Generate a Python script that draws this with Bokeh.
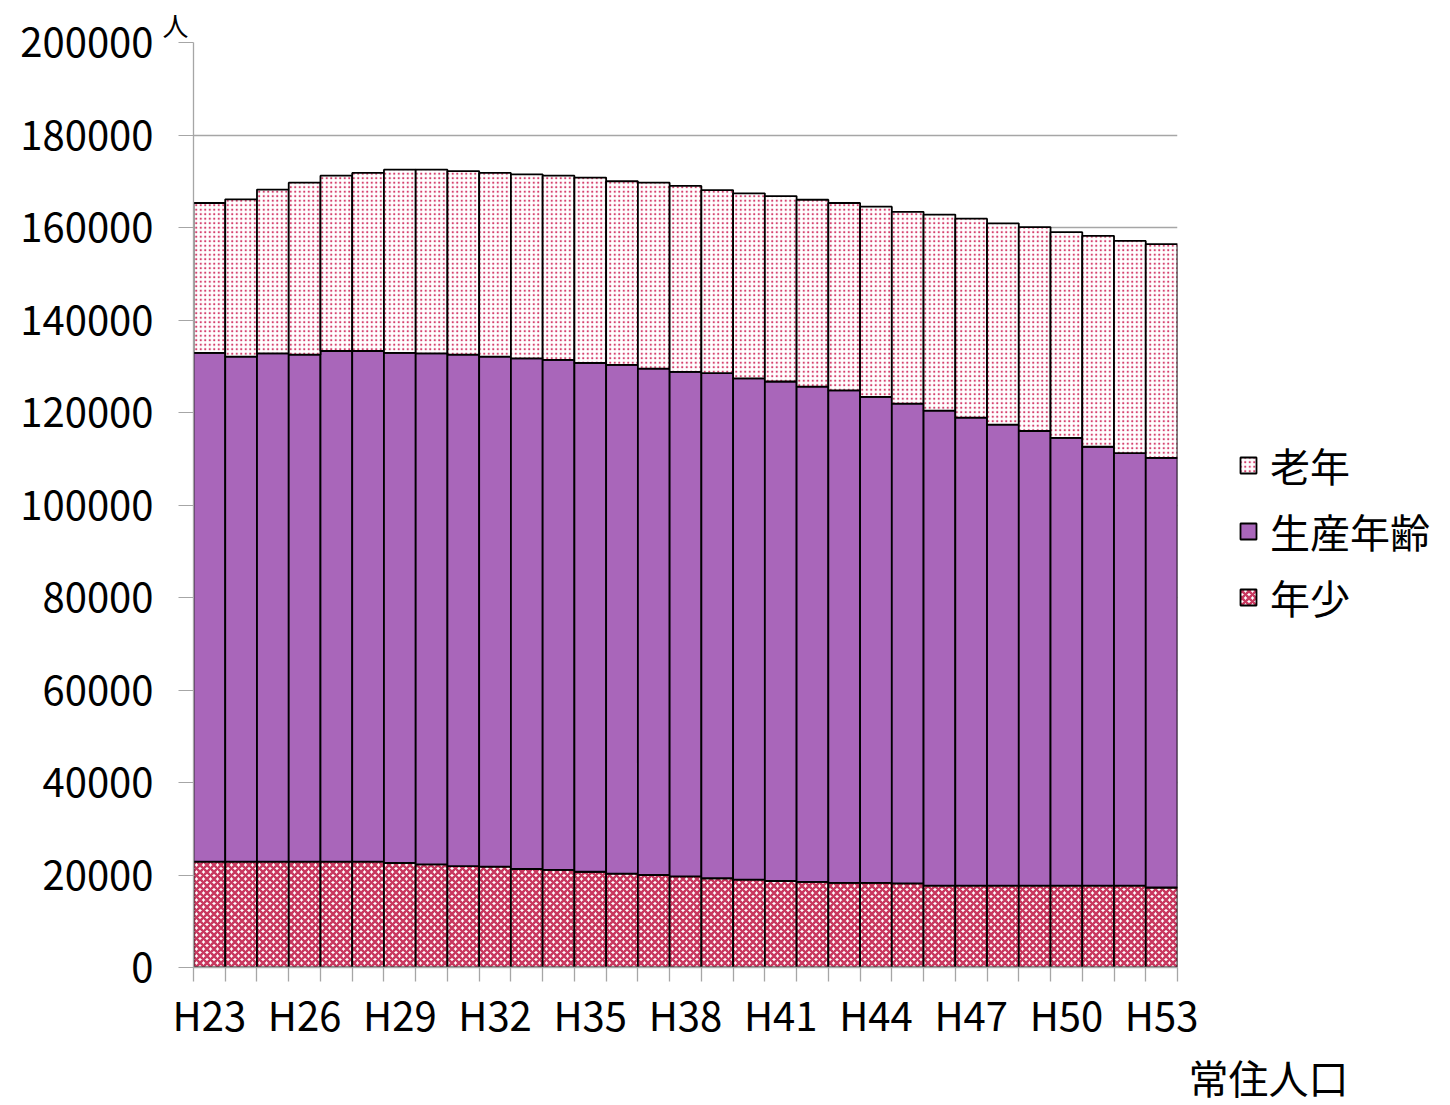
from bokeh.plotting import figure
from bokeh.models import (FixedTicker, Legend, LegendItem, Title, ColumnDataSource,
                          BasicTickFormatter)
from bokeh.embed import file_html
from bokeh.resources import INLINE

# ---- data (people) ----
years = ["H23", "H24", "H25", "H26", "H27", "H28", "H29", "H30", "H31", "H32", "H33",
         "H34", "H35", "H36", "H37", "H38", "H39", "H40", "H41", "H42", "H43", "H44",
         "H45", "H46", "H47", "H48", "H49", "H50", "H51", "H52", "H53"]
young = [22900, 22900, 22900, 22900, 22900, 22900, 22600, 22300, 21900, 21800, 21300,
         21100, 20700, 20300, 20000, 19700, 19300, 19000, 18700, 18500, 18300, 18300,
         18200, 17700, 17700, 17700, 17700, 17700, 17700, 17700, 17300]
working = [110000, 109200, 109900, 109600, 110400, 110400, 110300, 110500, 110600, 110300,
           110400, 110300, 110000, 110000, 109500, 109100, 109200, 108400, 108000, 107100,
           106500, 105100, 103700, 102700, 101200, 99700, 98300, 96800, 94900, 93500, 92900]
elderly = [32400, 34000, 35400, 37200, 37900, 38500, 39600, 39700, 39700, 39700, 39800,
           39800, 40100, 39700, 40200, 40200, 39600, 40000, 40100, 40400, 40500, 41100,
           41500, 42400, 43000, 43500, 44100, 44500, 45600, 45900, 46200]
series_names = ["年少", "生産年齢", "老年"]
y_ticks = [0, 20000, 40000, 60000, 80000, 100000, 120000, 140000, 160000, 180000, 200000]
label_every = 3
unit_label = "人"
x_title = "常住人口"

FONT = "Noto Sans CJK JP"
GRAY = "#a6a6a6"

idx = list(range(len(years)))
src = ColumnDataSource(dict(x=idx, young=young, working=working, elderly=elderly))

p = figure(frame_width=984, frame_height=925,
           x_range=(-0.5, len(years) - 0.5), y_range=(0, y_ticks[-1]),
           output_backend="svg", toolbar_location=None,
           min_border_left=193, min_border_right=263, min_border_top=42, min_border_bottom=120)
p.outline_line_color = None
p.background_fill_color = "white"

rs = p.vbar_stack(["young", "working", "elderly"], x="x", width=1.0, source=src,
                  fill_color=["white", "#a966ba", "white"],
                  line_color="black", line_width=1.8)
rs[0].glyph.hatch_pattern = "diagonal_cross"
rs[0].glyph.hatch_color = "#c8385f"
rs[0].glyph.hatch_scale = 7
rs[0].glyph.hatch_weight = 2.6
rs[2].glyph.hatch_pattern = "dot"
rs[2].glyph.hatch_color = "#d4406e"
rs[2].glyph.hatch_scale = 4.5
rs[2].glyph.hatch_weight = 1.2

# axes
p.xgrid.visible = False
p.ygrid.grid_line_color = GRAY
p.ygrid.grid_line_width = 1.3
p.yaxis.ticker = FixedTicker(ticks=y_ticks)
p.yaxis.formatter = BasicTickFormatter(use_scientific=False)
p.yaxis.minor_tick_line_color = None
p.yaxis.major_tick_out = 15
p.yaxis.major_tick_in = 0
p.yaxis.major_tick_line_color = GRAY
p.yaxis.axis_line_color = GRAY
p.yaxis.axis_line_width = 1.3
p.yaxis.major_label_standoff = 25
p.yaxis.major_label_text_font = FONT
p.yaxis.major_label_text_font_size = "40px"
p.yaxis.major_label_text_color = "black"

major = idx[::label_every]
p.xaxis.ticker = FixedTicker(ticks=major, minor_ticks=[i - 0.5 for i in idx] + [idx[-1] + 0.5])
p.xaxis.major_label_overrides = {i: years[i] for i in major}
p.xaxis.major_tick_line_color = None
p.xaxis.minor_tick_line_color = GRAY
p.xaxis.minor_tick_out = 14
p.xaxis.minor_tick_in = 0
p.xaxis.minor_tick_line_width = 1.3
p.xaxis.axis_line_color = GRAY
p.xaxis.axis_line_width = 1.3
p.xaxis.major_label_standoff = 3
p.xaxis.major_label_text_font = FONT
p.xaxis.major_label_text_font_size = "40px"
p.xaxis.major_label_text_color = "black"

# legend (right side panel)
items = [LegendItem(label=series_names[2], renderers=[rs[2]]),
         LegendItem(label=series_names[1], renderers=[rs[1]]),
         LegendItem(label=series_names[0], renderers=[rs[0]])]
leg = Legend(items=items, location=(61, 341), orientation="vertical",
             glyph_width=20, glyph_height=20, label_standoff=12, spacing=8,
             padding=0, margin=0, border_line_color=None, background_fill_alpha=0,
             label_text_font=FONT, label_text_font_size="40px", label_text_color="black")
p.add_layout(leg, "right")

# unit labels as titles
p.add_layout(Title(text=unit_label, align="left", offset=-31, standoff=0,
                   text_font=FONT, text_font_size="26px", text_font_style="normal",
                   text_color="black"), "above")
p.add_layout(Title(text=x_title, align="left", offset=995, standoff=0,
                   text_font=FONT, text_font_size="40px", text_font_style="normal",
                   text_color="black"), "below")

open("out.html", "w").write(file_html(p, INLINE))
